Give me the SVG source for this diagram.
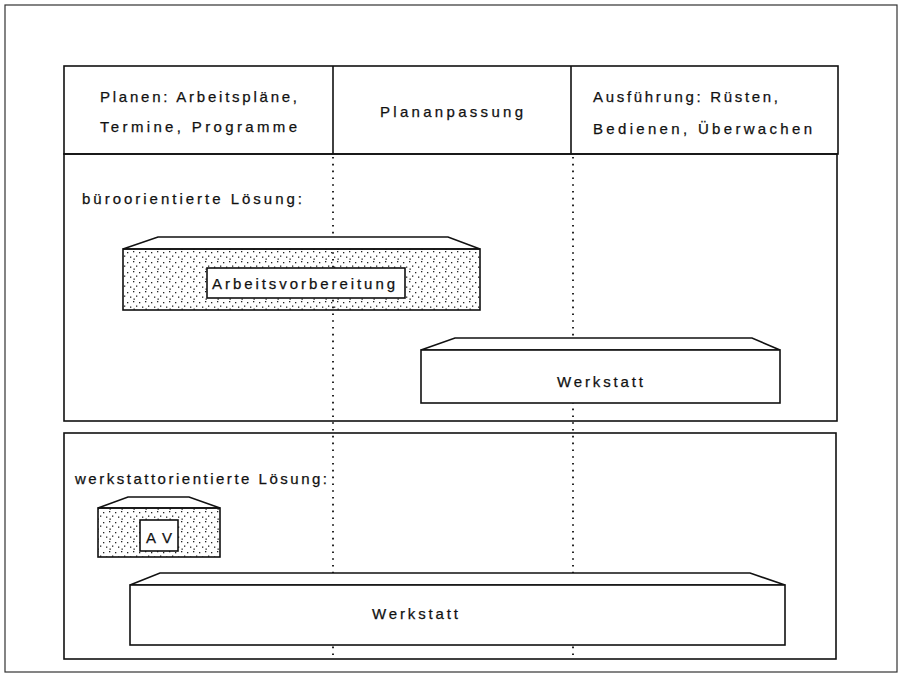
<svg xmlns="http://www.w3.org/2000/svg" width="900" height="674" viewBox="0 0 900 674">
<defs>
<pattern id="dots" width="12" height="10" patternUnits="userSpaceOnUse">
<rect x="1" y="1" width="1.3" height="1.3" fill="#222"/>
<rect x="7" y="2" width="1.3" height="1.3" fill="#222"/>
<rect x="4" y="5.5" width="1.3" height="1.3" fill="#222"/>
<rect x="10" y="6.5" width="1.3" height="1.3" fill="#222"/>
<rect x="1.5" y="8.5" width="1.3" height="1.3" fill="#222"/>
</pattern>
<style>
.ln{fill:none;stroke:#111;stroke-width:1.6}
.box{fill:#fff;stroke:#111;stroke-width:1.6}
.dbox{fill:url(#dots);stroke:#111;stroke-width:1.6}
.dot{fill:none;stroke:#111;stroke-width:1.8;stroke-dasharray:1.6 5.2}
.t{font-family:"Liberation Sans",Arial,sans-serif;font-size:15px;fill:#111;stroke:#111;stroke-width:0.25}
</style>
</defs>
<rect x="0" y="0" width="900" height="674" fill="#fff"/>
<rect x="5" y="5" width="892" height="667" fill="none" stroke="#333" stroke-width="1.2"/>

<g id="header">
<rect class="ln" x="64" y="66" width="774" height="88"/>
<line class="ln" x1="333" y1="66" x2="333" y2="154"/>
<line class="ln" x1="571" y1="66" x2="571" y2="154"/>
<text class="t" x="100" y="102" textLength="197" lengthAdjust="spacing">Planen: Arbeitspläne,</text>
<text class="t" x="100" y="132" textLength="197" lengthAdjust="spacing">Termine, Programme</text>
<text class="t" x="380" y="117" textLength="143" lengthAdjust="spacing">Plananpassung</text>
<text class="t" x="593" y="102" textLength="185" lengthAdjust="spacing">Ausführung: Rüsten,</text>
<text class="t" x="593" y="134" textLength="219" lengthAdjust="spacing">Bedienen, Überwachen</text>
</g>

<g id="panel1">
<rect class="ln" x="64" y="154" width="773" height="267"/>
<text class="t" x="82" y="204" textLength="220" lengthAdjust="spacing">büroorientierte Lösung:</text>
</g>

<g id="panel2">
<rect class="ln" x="64" y="433" width="772" height="226"/>
<text class="t" x="75" y="484" textLength="252" lengthAdjust="spacing">werkstattorientierte Lösung:</text>
</g>

<g id="connectors">
<line class="dot" x1="333" y1="157" x2="333" y2="659"/>
<line class="dot" x1="573" y1="157" x2="573" y2="659"/>
</g>

<g id="arbeitsvorbereitung">
<polygon class="box" points="123,249 158,237 448,237 480,249"/>
<rect class="dbox" x="123" y="249" width="357" height="61"/>
<rect class="box" x="207" y="268" width="198" height="30"/>
<text class="t" x="212" y="289" textLength="183" lengthAdjust="spacing">Arbeitsvorbereitung</text>
</g>

<g id="werkstatt1">
<polygon class="box" points="421,350 455,338 752,338 780,350"/>
<rect class="box" x="421" y="350" width="359" height="53"/>
<text class="t" x="557" y="387" textLength="86" lengthAdjust="spacing">Werkstatt</text>
</g>

<g id="av">
<polygon class="box" points="98,508 128,497 189,497 220,508"/>
<rect class="dbox" x="98" y="508" width="122" height="49"/>
<rect class="box" x="140" y="520" width="38" height="31"/>
<text class="t" x="146" y="543" textLength="26" lengthAdjust="spacing">AV</text>
</g>

<g id="werkstatt2">
<polygon class="box" points="130,585 160,573 750,573 785,585"/>
<rect class="box" x="130" y="585" width="655" height="60"/>
<text class="t" x="372" y="619" textLength="86" lengthAdjust="spacing">Werkstatt</text>
</g>
</svg>
